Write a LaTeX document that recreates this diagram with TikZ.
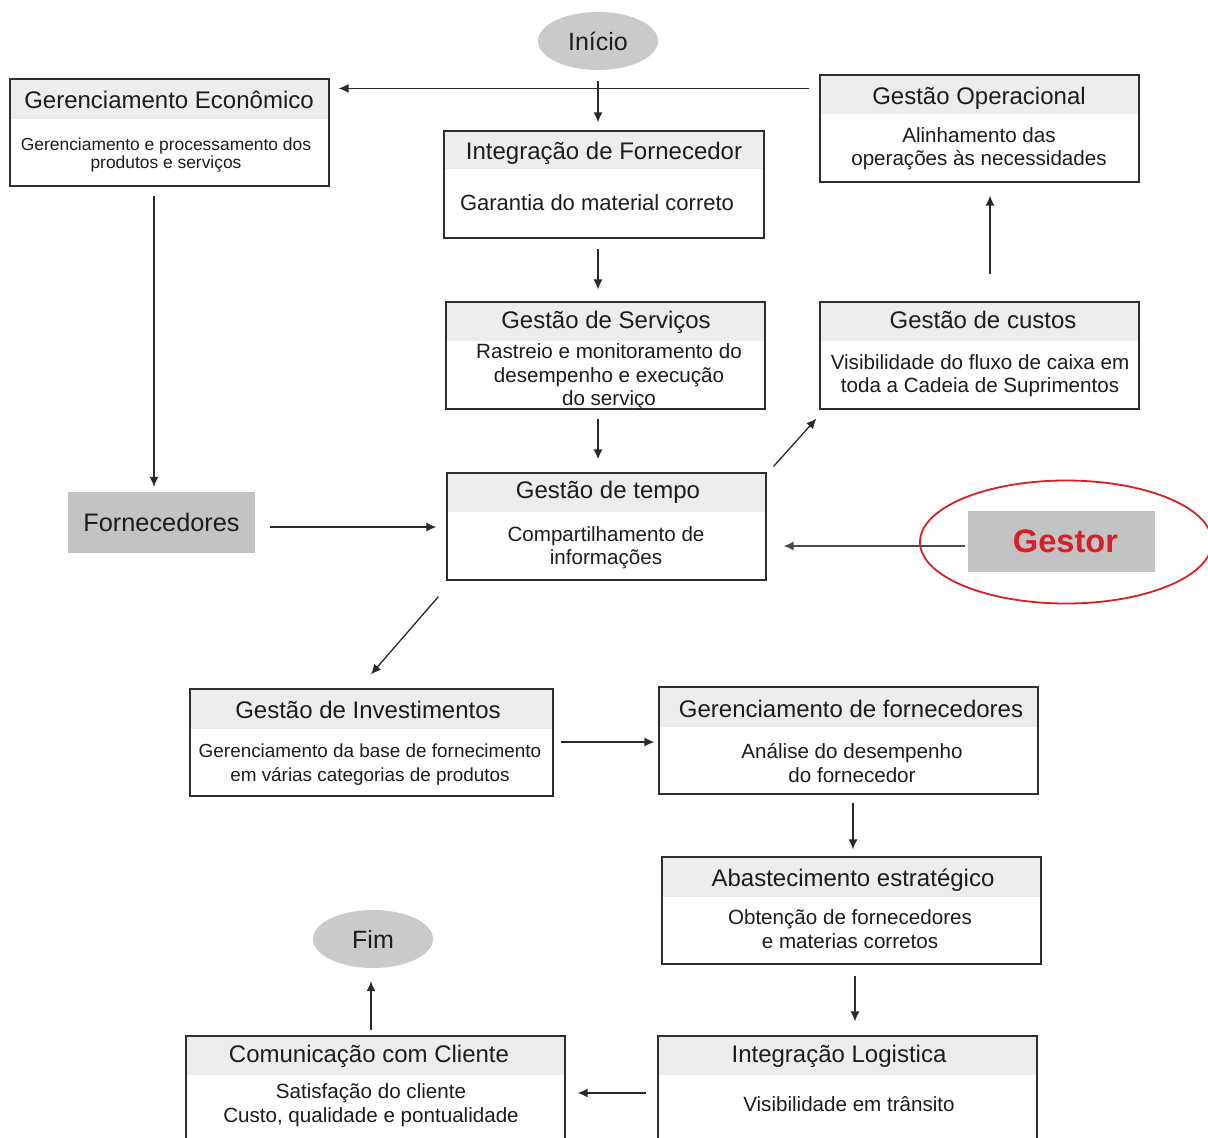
\documentclass[tikz,border=0pt]{standalone}
\usepackage{fontspec}
\setmainfont{Liberation Sans}
\usetikzlibrary{shapes.geometric,arrows.meta,calc,backgrounds}

\definecolor{boxc}{HTML}{2E2E2E}
\definecolor{hdrc}{HTML}{EDEDED}
\definecolor{blkc}{HTML}{C3C3C3}
\definecolor{ovalc}{HTML}{CACACA}
\definecolor{txtc}{HTML}{1C1C1C}
\definecolor{redc}{HTML}{D81E26}
\definecolor{linec}{HTML}{2A2A2A}

\tikzset{
  box/.style={draw=boxc, line width=1.2pt, inner sep=0pt, rectangle},
  hdr/.style={fill=hdrc},
  ttl/.style={font=\fontsize{24}{28}\selectfont, text=txtc, anchor=base, inner sep=0pt},
  bdy/.style={font=\fontsize{20.6}{23.5}\selectfont, text=txtc, align=center, inner sep=0pt},
  arr/.style={-{Latex[length=10pt,width=9pt]}, line width=1.3pt, draw=linec},
  oval/.style={ellipse, fill=ovalc, minimum width=120pt, minimum height=58pt, inner sep=0pt,
               font=\fontsize{25}{30}\selectfont, text=txtc},
  blk/.style={rectangle, fill=blkc, minimum width=187pt, minimum height=61pt, inner sep=0pt},
}

\begin{document}
\begin{tikzpicture}[x=1pt, y=-1pt]
\useasboundingbox (0,0) rectangle (1208,1138);

% terminals
\node[oval] (inicio) at (598,41) {Início};
\node[oval] (fim) at (373,939) {Fim};

% process boxes
\node[box, minimum width=319pt, minimum height=107pt] (ge) at (169.5,132.5) {};
\node[box, minimum width=320pt, minimum height=107pt] (if) at (604,184.5) {};
\node[box, minimum width=319pt, minimum height=107pt] (gs) at (605.5,355.5) {};
\node[box, minimum width=319pt, minimum height=107pt] (gt) at (606.5,526.5) {};
\node[box, minimum width=319pt, minimum height=107pt] (go) at (979.5,128.5) {};
\node[box, minimum width=319pt, minimum height=107pt] (gc) at (979.5,355.5) {};
\node[box, minimum width=363pt, minimum height=107pt] (gi) at (371.5,742.5) {};
\node[box, minimum width=379pt, minimum height=107pt] (gf) at (848.5,740.5) {};
\node[box, minimum width=379pt, minimum height=107pt] (ae) at (851.5,910.5) {};
\node[box, minimum width=379pt, minimum height=107pt] (il) at (847.5,1089.5) {};
\node[box, minimum width=379pt, minimum height=107pt] (cc) at (375.5,1089.5) {};

% header bands and page background
\begin{scope}[on background layer]
  \fill[white] (0,0) rectangle (1208,1138);
  \foreach \b/\h in {ge/41, if/39, gs/40, gt/40, go/40, gc/40, gi/41, gf/41, ae/41, il/40, cc/40}
    \fill[hdr] (\b.north west) rectangle ($(\b.north east)+(0,\h)$);
\end{scope}

% titles
\node[ttl] (ge-t) at (169,108) {Gerenciamento Econômico};
\node[ttl] (if-t) at (604,159) {Integração de Fornecedor};
\node[ttl] (gs-t) at (606,328.5) {Gestão de Serviços};
\node[ttl] (gt-t) at (608,498.5) {Gestão de tempo};
\node[ttl] (go-t) at (979,104.5) {Gestão Operacional};
\node[ttl] (gc-t) at (983,328.5) {Gestão de custos};
\node[ttl] (gi-t) at (368,718.5) {Gestão de Investimentos};
\node[ttl] (gf-t) at (851,717.5) {Gerenciamento de fornecedores};
\node[ttl] (ae-t) at (853,886.5) {Abastecimento estratégico};
\node[ttl] (il-t) at (839,1062.5) {Integração Logistica};
\node[ttl] (cc-t) at (369,1062.5) {Comunicação com Cliente};

% descriptions
\node[bdy, font=\fontsize{17.4}{18}\selectfont] (ge-b) at (166,155) {Gerenciamento e processamento dos\\produtos e serviços};
\node[bdy, font=\fontsize{22}{26}\selectfont] (if-b) at (597,203) {Garantia do material correto};
\node[bdy] (gs-b) at (609,377) {Rastreio e monitoramento do\\desempenho e execução\\do serviço};
\node[bdy] (gt-b) at (606,547.5) {Compartilhamento de\\informações};
\node[bdy] (go-b) at (979,148.5) {Alinhamento das\\operações às necessidades};
\node[bdy] (gc-b) at (980,375.5) {Visibilidade do fluxo de caixa em\\toda a Cadeia de Suprimentos};
\node[bdy, font=\fontsize{18.9}{23.5}\selectfont] (gi-b) at (370,764.5) {Gerenciamento da base de fornecimento\\em várias categorias de produtos};
\node[bdy] (gf-b) at (852,763) {Análise do desempenho\\do fornecedor};
\node[bdy] (ae-b) at (850,929) {Obtenção de fornecedores\\e materias corretos};
\node[bdy] (il-b) at (849,1104) {Visibilidade em trânsito};
\node[bdy] (cc-b) at (371,1105) {Satisfação do cliente\\Custo, qualidade e pontualidade};

% grey blocks
\node[blk, font=\fontsize{25.3}{30}\selectfont, text=txtc] (forn) at (161.5,522.5) {Fornecedores};
\node[blk, font=\fontsize{32.6}{38}\selectfont\bfseries, text=redc] (gestor) at (1061.5,541.5) {\hspace*{8pt}Gestor};
\node[ellipse, draw=redc, line width=1.8pt, minimum width=292pt, minimum height=123pt, inner sep=0pt] (ring) at (1066,542) {};

% connectors
\draw[arr] ($(go.north west)+(-10,14)$) -- ($(ge.north east)+(9,10)$);
\draw[arr] ($(inicio.south)+(0,11)$) -- ($(inicio.south |- if.north)+(0,-8)$);
\draw[arr] ($(if.south)+(-6,10)$) -- ($(gs.north)+(-7.5,-12)$);
\draw[arr] ($(gs.south)+(-7.5,9)$) -- ($(gt.north)+(-8.5,-13)$);
\draw[arr] ($(ge.south)+(-15.5,9)$) -- ($(forn.north)+(-7.5,-5)$);
\draw[arr] ($(forn.east)+(15,4.5)$) -- ($(gt.west)+(-10,0.5)$);
\draw[arr, draw=black!70] ($(gestor.west)+(-3,4.5)$) -- ($(gt.east)+(17,19.5)$);
\draw[arr] ($(gt.north east)+(7,-6)$) -- ($(gc.south west)+(-3,9)$);
\draw[arr] ($(gc.north)+(10.5,-27)$) -- ($(go.south)+(10.5,13)$);
\draw[arr] ($(gt.south west)+(-8,16)$) -- ($(gi.north)+(-0.5,-14)$);
\draw[arr] ($(gi.east)+(7,-0.5)$) -- ($(gf.west)+(-4,1.5)$);
\draw[arr] ($(gf.south)+(4.5,8)$) -- ($(ae.north)+(1.5,-7)$);
\draw[arr] ($(ae.south)+(3.5,11)$) -- ($(il.north)+(7.5,-14)$);
\draw[arr] ($(il.west)+(-11,3.5)$) -- ($(cc.east)+(12,3.5)$);
\draw[arr] ($(cc.north)+(-4.5,-5)$) -- ($(fim.south)+(-2,13)$);
\end{tikzpicture}
\end{document}
